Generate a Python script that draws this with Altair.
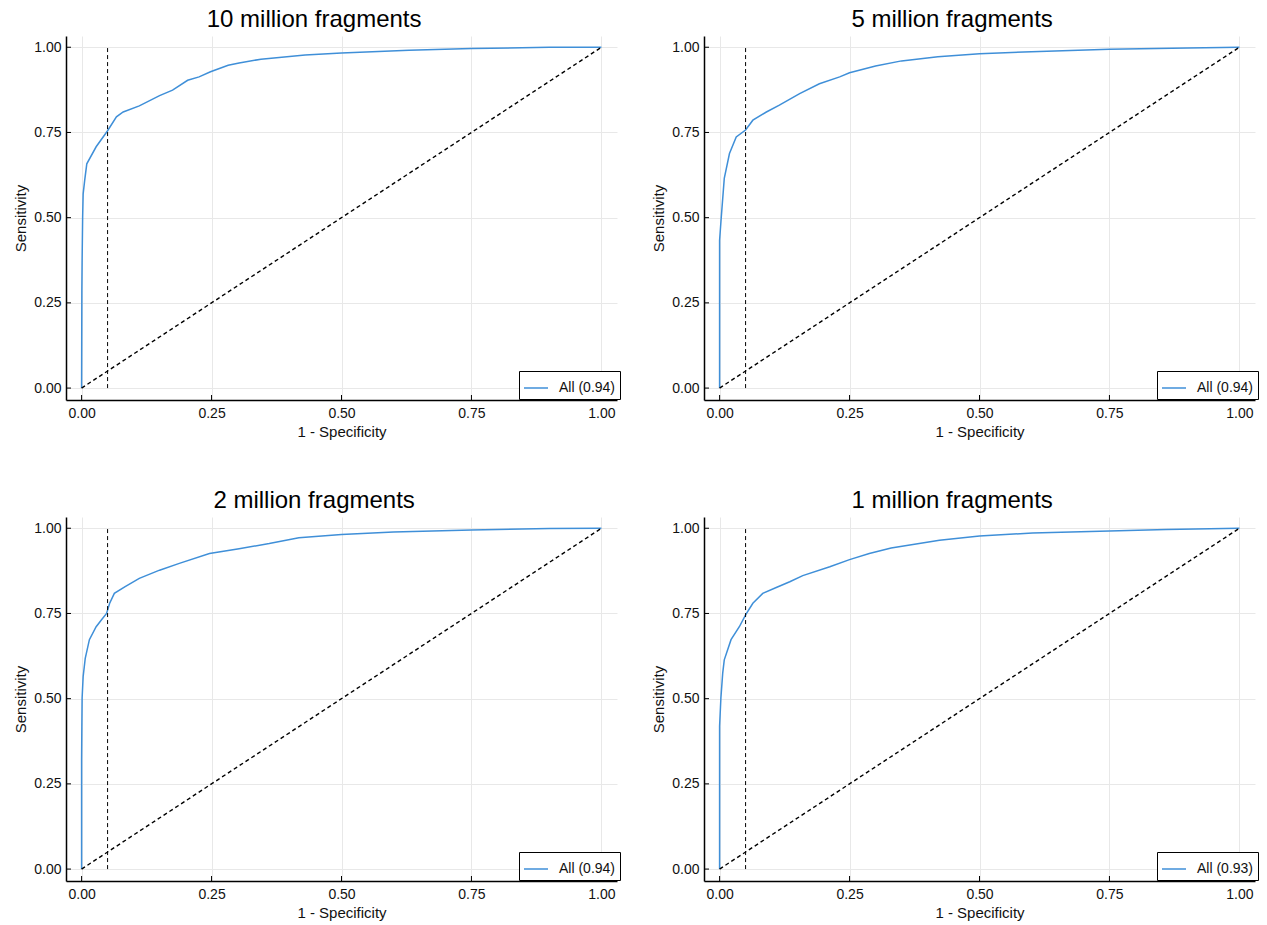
import altair as alt
import pandas as pd

titles = ["10 million fragments", "5 million fragments", "2 million fragments", "1 million fragments"]
legend_labels = ["All (0.94)", "All (0.94)", "All (0.94)", "All (0.93)"]

fpr_10m = [0.0, 0.0005, 0.001, 0.002, 0.003, 0.006, 0.010, 0.028, 0.050, 0.067, 0.080, 0.111, 0.150, 0.175, 0.204,
           0.226, 0.248, 0.282, 0.303, 0.345, 0.430, 0.500, 0.630, 0.750, 0.900, 1.0]
tpr_10m = [0.0, 0.287, 0.375, 0.500, 0.570, 0.610, 0.658, 0.708, 0.755, 0.796, 0.810, 0.828, 0.858, 0.874, 0.903,
           0.913, 0.928, 0.947, 0.954, 0.965, 0.977, 0.983, 0.991, 0.996, 1.0, 1.0]

fpr_5m = [0.0, 0.0, 0.003, 0.009, 0.019, 0.032, 0.050, 0.064, 0.090, 0.115, 0.154, 0.192, 0.231, 0.250, 0.300,
          0.350, 0.420, 0.500, 0.600, 0.750, 0.900, 1.0]
tpr_5m = [0.0, 0.434, 0.497, 0.615, 0.688, 0.737, 0.757, 0.786, 0.810, 0.830, 0.864, 0.893, 0.913, 0.925, 0.945,
          0.960, 0.972, 0.981, 0.987, 0.994, 0.998, 1.0]

fpr_2m = [0.0, 0.0, 0.0005, 0.001, 0.003, 0.007, 0.015, 0.028, 0.038, 0.048, 0.054, 0.063, 0.083, 0.111, 0.150,
          0.188, 0.246, 0.303, 0.361, 0.418, 0.500, 0.600, 0.750, 0.900, 1.0]
tpr_2m = [0.0, 0.320, 0.419, 0.502, 0.565, 0.618, 0.673, 0.711, 0.731, 0.750, 0.780, 0.809, 0.828, 0.853, 0.877,
          0.897, 0.926, 0.940, 0.955, 0.972, 0.982, 0.989, 0.995, 0.999, 1.0]

fpr_1m = [0.0, 0.0, 0.0025, 0.006, 0.009, 0.022, 0.038, 0.050, 0.064, 0.083, 0.109, 0.135, 0.160, 0.212, 0.250,
          0.288, 0.330, 0.423, 0.500, 0.602, 0.750, 0.859, 1.0]
tpr_1m = [0.0, 0.419, 0.502, 0.575, 0.614, 0.673, 0.711, 0.746, 0.780, 0.809, 0.826, 0.843, 0.861, 0.887, 0.908,
          0.926, 0.942, 0.965, 0.977, 0.986, 0.992, 0.996, 1.0]

tick_values = [0.0, 0.25, 0.5, 0.75, 1.0]
cutoff = 0.05

BLUE = "#3f8fd8"
FONT = "Liberation Sans"
W, H = 551, 364


def panel(title, label, fpr, tpr):
    xs = alt.Scale(domain=[-0.03, 1.03], nice=False, zero=False)
    ys = alt.Scale(domain=[-0.035, 1.033], nice=False, zero=False)
    xax = alt.Axis(values=tick_values, format=".2f", title="1 - Specificity")
    yax = alt.Axis(values=tick_values, format=".2f", title="Sensitivity")
    X = alt.X("fpr:Q", scale=xs, axis=xax)
    Y = alt.Y("tpr:Q", scale=ys, axis=yax)

    roc_df = pd.DataFrame({"fpr": fpr, "tpr": tpr, "series": label, "i": list(range(len(fpr)))})
    roc = alt.Chart(roc_df).mark_line(strokeWidth=1.5).encode(
        x=X, y=Y,
        order=alt.Order("i:Q"),
        color=alt.Color(
            "series:N",
            scale=alt.Scale(domain=[label], range=[BLUE]),
            title=None,
            legend=alt.Legend(
                orient="none", legendX=453, legendY=335,
                strokeColor="black", padding=4, cornerRadius=0, fillColor="white",
                symbolType="stroke", symbolSize=576, symbolStrokeWidth=1.5,
                labelFontSize=14, labelFont=FONT, labelColor="#111111", labelOffset=10,
            ),
        ),
    )

    diag_df = pd.DataFrame({"fpr": [0.0, 1.0], "tpr": [0.0, 1.0]})
    diag = alt.Chart(diag_df).mark_line(color="black", strokeWidth=1.4, strokeDash=[4, 3]).encode(x=X, y=Y)

    vdf = pd.DataFrame({"fpr": [cutoff], "tpr": [0.0], "tpr2": [1.0]})
    vline = alt.Chart(vdf).mark_rule(color="black", strokeWidth=1, strokeDash=[4, 3]).encode(
        x=X, y=Y, y2="tpr2:Q")

    tdf = pd.DataFrame({"fpr": tick_values, "tpr": tick_values})
    xticks = alt.Chart(tdf).mark_rule(color="black", strokeWidth=1).encode(
        x=X, y=alt.value(H), y2=alt.value(H - 5))
    yticks = alt.Chart(tdf).mark_rule(color="black", strokeWidth=1).encode(
        y=Y, x=alt.value(0), x2=alt.value(5))

    return alt.layer(roc, diag, vline, xticks, yticks).properties(
        width=W, height=H, title=alt.TitleParams(title, frame="bounds", anchor="middle", dx=-3))


panels = [
    panel(titles[0], legend_labels[0], fpr_10m, tpr_10m),
    panel(titles[1], legend_labels[1], fpr_5m, tpr_5m),
    panel(titles[2], legend_labels[2], fpr_2m, tpr_2m),
    panel(titles[3], legend_labels[3], fpr_1m, tpr_1m),
]

top = alt.hconcat(panels[0], panels[1], spacing=30).resolve_scale(color="independent")
bottom = alt.hconcat(panels[2], panels[3], spacing=30).resolve_scale(color="independent")

chart = alt.vconcat(top, bottom, spacing=50).resolve_scale(color="independent").properties(
    padding={"left": 13, "top": 8, "right": 5, "bottom": 5}
).configure_axis(
    domainColor="black", domainWidth=1.5, gridColor="#e8e8e8", gridWidth=1,
    labelFont=FONT, labelFontSize=14, labelColor="#111111",
    titleFont=FONT, titleFontSize=15, titleFontWeight="normal", titleColor="#111111",
    tickSize=0,
).configure_axisX(labelPadding=6, titlePadding=4).configure_axisY(
    labelPadding=5, titlePadding=5
).configure_view(
    stroke=None
).configure_title(
    font=FONT, fontSize=24, fontWeight="normal", color="black", offset=4
)

chart.save("out.html", embed_options={"renderer": "svg", "actions": False})
